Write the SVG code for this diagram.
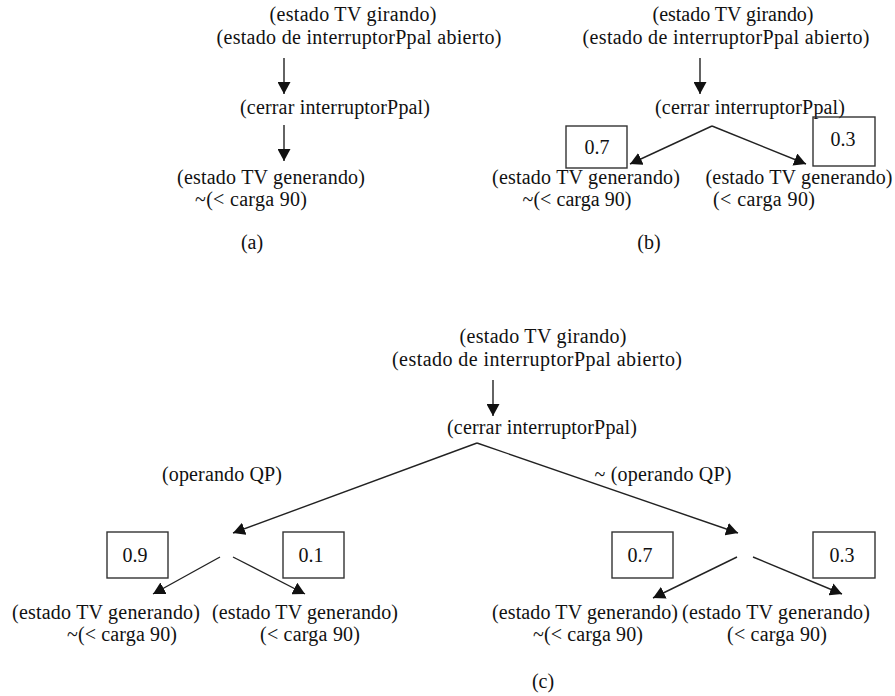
<svg xmlns="http://www.w3.org/2000/svg" width="895" height="696" viewBox="0 0 895 696">
<style>
text{font-family:"Liberation Serif","Times New Roman",serif;font-size:20px;fill:#111;text-anchor:middle}
.c line{stroke:#222;stroke-width:1.4;marker-end:url(#ah)}
.box rect{fill:none;stroke:#333;stroke-width:1.4}
</style>
<defs>
<marker id="ah" markerUnits="userSpaceOnUse" markerWidth="13" markerHeight="13" refX="12" refY="6.5" orient="auto">
<path d="M0,0 L12,6.5 L0,13 z" fill="#111"/>
</marker>
</defs>
<rect width="895" height="696" fill="#fff"/>
<g id="connectors" class="c">
<line x1="284" y1="58" x2="284" y2="94"/>
<line x1="284" y1="125" x2="284" y2="161"/>
<line x1="700" y1="58" x2="700" y2="94"/>
<line x1="712" y1="126" x2="630" y2="164"/>
<line x1="712" y1="126" x2="806" y2="164"/>
<line x1="493" y1="380" x2="493" y2="416"/>
<line x1="477" y1="443" x2="233" y2="533"/>
<line x1="477" y1="443" x2="738" y2="533"/>
<line x1="220" y1="557" x2="153" y2="594"/>
<line x1="233" y1="557" x2="305" y2="594"/>
<line x1="737" y1="557" x2="653" y2="598"/>
<line x1="753" y1="557" x2="842" y2="594"/>
</g>
<g id="a-start"><text x="353" y="21" textLength="167" lengthAdjust="spacing">(estado TV girando)</text><text x="359" y="44" textLength="285" lengthAdjust="spacing">(estado de interruptorPpal abierto)</text></g>
<g id="a-action"><text x="335" y="114" textLength="190" lengthAdjust="spacing">(cerrar interruptorPpal)</text></g>
<g id="a-result"><text x="271" y="184" textLength="188" lengthAdjust="spacing">(estado TV generando)</text><text x="251" y="206" textLength="112" lengthAdjust="spacing">~(&lt; carga 90)</text></g>
<g id="a-label"><text x="252" y="249">(a)</text></g>

<g id="b-start"><text x="733" y="21" textLength="161" lengthAdjust="spacing">(estado TV girando)</text><text x="726" y="44" textLength="287" lengthAdjust="spacing">(estado de interruptorPpal abierto)</text></g>
<g id="b-action"><text x="750" y="114" textLength="190" lengthAdjust="spacing">(cerrar interruptorPpal)</text></g>
<g id="b-p07" class="box"><rect x="566" y="126" width="61" height="42"/><text x="597" y="154">0.7</text></g>
<g id="b-p03" class="box"><rect x="813" y="117" width="62" height="49"/><text x="843" y="146">0.3</text></g>
<g id="b-result1"><text x="586" y="184" textLength="188" lengthAdjust="spacing">(estado TV generando)</text><text x="577" y="206" textLength="109" lengthAdjust="spacing">~(&lt; carga 90)</text></g>
<g id="b-result2"><text x="799" y="184" textLength="187" lengthAdjust="spacing">(estado TV generando)</text><text x="764" y="206" textLength="102" lengthAdjust="spacing">(&lt; carga 90)</text></g>
<g id="b-label"><text x="649" y="249">(b)</text></g>

<g id="c-start"><text x="543" y="343" textLength="167" lengthAdjust="spacing">(estado TV girando)</text><text x="537" y="366" textLength="290" lengthAdjust="spacing">(estado de interruptorPpal abierto)</text></g>
<g id="c-action"><text x="542" y="434" textLength="190" lengthAdjust="spacing">(cerrar interruptorPpal)</text></g>
<g id="c-cond1"><text x="222" y="481" textLength="120" lengthAdjust="spacing">(operando QP)</text></g>
<g id="c-cond2"><text x="663" y="481" textLength="137" lengthAdjust="spacing">~ (operando QP)</text></g>
<g id="c-p09" class="box"><rect x="107" y="532" width="61" height="46"/><text x="135" y="562">0.9</text></g>
<g id="c-p01" class="box"><rect x="283" y="532" width="61" height="46"/><text x="311" y="562">0.1</text></g>
<g id="c-p07" class="box"><rect x="612" y="532" width="61" height="46"/><text x="640" y="562">0.7</text></g>
<g id="c-p03" class="box"><rect x="813" y="532" width="62" height="46"/><text x="842" y="562">0.3</text></g>
<g id="c-result1"><text x="106" y="619" textLength="188" lengthAdjust="spacing">(estado TV generando)</text><text x="122" y="641" textLength="110" lengthAdjust="spacing">~(&lt; carga 90)</text></g>
<g id="c-result2"><text x="305" y="619" textLength="186" lengthAdjust="spacing">(estado TV generando)</text><text x="310" y="641" textLength="100" lengthAdjust="spacing">(&lt; carga 90)</text></g>
<g id="c-result3"><text x="585" y="619" textLength="186" lengthAdjust="spacing">(estado TV generando)</text><text x="588" y="641" textLength="110" lengthAdjust="spacing">~(&lt; carga 90)</text></g>
<g id="c-result4"><text x="776" y="619" textLength="188" lengthAdjust="spacing">(estado TV generando)</text><text x="777" y="641" textLength="100" lengthAdjust="spacing">(&lt; carga 90)</text></g>
<g id="c-label"><text x="543" y="688">(c)</text></g>
</svg>
